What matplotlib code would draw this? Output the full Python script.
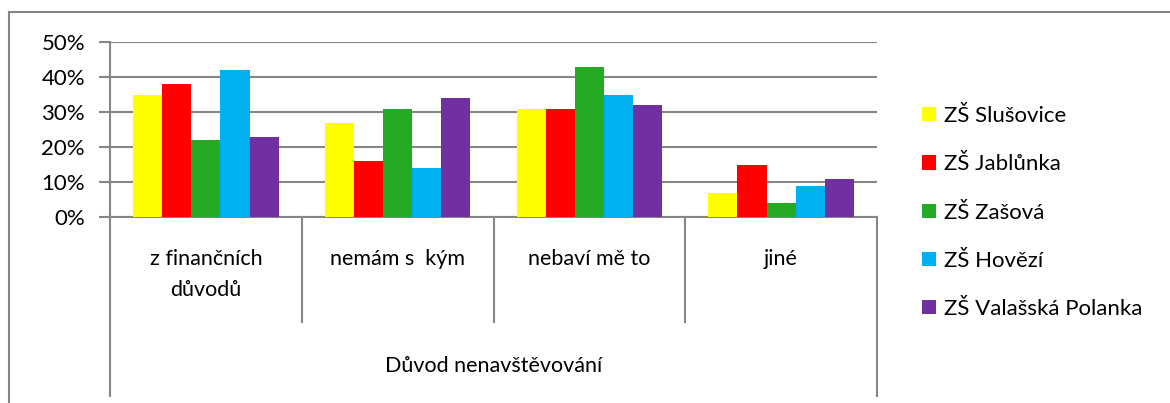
import matplotlib.pyplot as plt
import matplotlib.transforms as mtransforms
import numpy as np

plt.rcParams['font.family'] = ['Lato', 'DejaVu Sans']

kategorie = ['z finančních\ndůvodů', 'nemám s  kým', 'nebaví mě to', 'jiné']
skoly = ['ZŠ Slušovice', 'ZŠ Jablůnka', 'ZŠ Zašová', 'ZŠ Hovězí', 'ZŠ Valašská Polanka']
barvy = ['#FFFF00', '#FF0000', '#25AA25', '#00B0F0', '#7030A0']

slusovice = [0.35, 0.27, 0.31, 0.07]
jablunka = [0.38, 0.16, 0.31, 0.15]
zasova = [0.22, 0.31, 0.43, 0.04]
hovezi = [0.42, 0.14, 0.35, 0.09]
polanka = [0.23, 0.34, 0.32, 0.11]
hodnoty = [slusovice, jablunka, zasova, hovezi, polanka]

osa_nazev = 'Důvod nenavštěvování'

W, H = 1170, 403
fig = plt.figure(figsize=(W / 100, H / 100), dpi=100)
ax = fig.add_axes([110 / W, 1 - 217 / H, (877 - 110) / W, (217 - 42) / H])

seda = '#868686'
x = np.arange(len(kategorie))
sirka = 0.152
for i, (nazev, data) in enumerate(zip(skoly, hodnoty)):
    ax.bar(x + (i - 2) * sirka, data, sirka, color=barvy[i], label=nazev, zorder=3)

ax.set_xlim(-0.5, len(kategorie) - 0.5)
ax.set_ylim(0, 0.5)
ax.set_yticks(np.arange(0, 0.51, 0.1))
ax.set_yticklabels([f'{int(round(v * 100))}%' for v in np.arange(0, 0.51, 0.1)], fontsize=16)
ax.yaxis.grid(True, color=seda, linewidth=1.5, zorder=0)
ax.tick_params(axis='y', length=8, width=1.5, color=seda, pad=10)
ax.set_xticks([])
for s in ['top', 'right']:
    ax.spines[s].set_visible(False)
ax.spines['left'].set_color(seda)
ax.spines['left'].set_linewidth(1.5)
ax.spines['bottom'].set_color(seda)
ax.spines['bottom'].set_linewidth(1.5)

# vicurovnova osa kategorii
tr = mtransforms.blended_transform_factory(ax.transData, ax.transAxes)
vyska = 217 - 42
for k in range(len(kategorie) + 1):
    dolu = 396 if k in (0, len(kategorie)) else 322
    ax.plot([k - 0.5, k - 0.5], [0, -(dolu - 217) / vyska], transform=tr,
            color=seda, linewidth=1.5, clip_on=False)
for k, txt in enumerate(kategorie):
    ax.text(k, -(249 - 217) / vyska, txt, transform=tr, ha='center', va='top',
            fontsize=15.5, linespacing=1.7)
ax.text(0.5, -(366 - 217) / vyska, osa_nazev, transform=ax.transAxes,
        ha='center', va='center', fontsize=15.5)

# ramecek grafu
fig.add_artist(plt.Line2D([9 / W, 1], [1 - 12 / H, 1 - 12 / H], color=seda, linewidth=1.5))
fig.add_artist(plt.Line2D([9 / W, 9 / W], [0, 1 - 12 / H], color=seda, linewidth=1.5))

fig.legend(loc='upper left', bbox_to_anchor=(911 / W, 1 - 95 / H), frameon=False,
           fontsize=16, handlelength=0.62, handleheight=0.62, handletextpad=0.35,
           labelspacing=1.27, borderpad=0)

fig.savefig('out.png', dpi=100)
